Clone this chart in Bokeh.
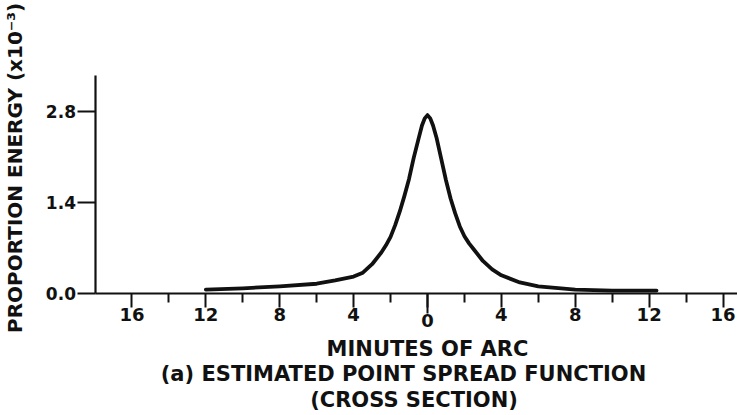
import math
from bokeh.plotting import figure
from bokeh.models import Range1d, FixedTicker, PrintfTickFormatter, Label, LinearAxis
from bokeh.embed import file_html
from bokeh.resources import INLINE

# Data (minutes of arc, proportion energy x1e-3)
minutes = [-12, -10, -8, -6, -5, -4, -3.5, -3, -2.5, -2.25, -2, -1.75, -1.5, -1.25, -1,
           -0.75, -0.5, -0.3, -0.15, 0, 0.15, 0.3, 0.5, 0.75, 1, 1.25, 1.5, 1.75, 2, 2.25,
           2.5, 3, 3.5, 4, 5, 6, 8, 10, 12.4]
energy = [0.06, 0.08, 0.11, 0.15, 0.2, 0.26, 0.32, 0.45, 0.63, 0.74, 0.87, 1.05, 1.26, 1.5, 1.76,
          2.08, 2.36, 2.58, 2.69, 2.74, 2.69, 2.58, 2.38, 2.06, 1.74, 1.46, 1.23, 1.03, 0.88, 0.77,
          0.68, 0.50, 0.37, 0.28, 0.17, 0.11, 0.06, 0.045, 0.045]

x_major = [-16, -12, -8, -4, 0, 4, 8, 12, 16]
x_major_labels = ["16", "12", "8", "4", "", "4", "8", "12", "16"]
x_center_tick = [0]
x_center_label = ["0"]
x_minor = [-14, -10, -6, -2, 2, 6, 10, 14]
y_major = [0.0, 1.4, 2.8]

x_axis_bounds = (-17.95, 16.8)
y_axis_bounds = (0.0, 3.35)

x_title = "MINUTES OF ARC"
caption_1 = "(a) ESTIMATED POINT SPREAD FUNCTION"
caption_2 = "(CROSS SECTION)"
y_title = "PROPORTION ENERGY (x10\u207b\u00b3)"

FONT = "DejaVu Sans"
INK = "#111111"

W, H = 737, 415
PX_X, PX_Y = 18.47, 65.1       # pixels per data unit
X0_PX, Y0_PX = 427, 293         # canvas position of the data origin

p = figure(width=W, height=H, output_backend="svg", toolbar_location=None,
           x_range=Range1d(-X0_PX / PX_X, (W - X0_PX) / PX_X),
           y_range=Range1d(-(H - Y0_PX) / PX_Y, Y0_PX / PX_Y),
           min_border=0)
p.xgrid.visible = False
p.ygrid.visible = False
p.outline_line_color = None
p.background_fill_color = "white"
p.border_fill_color = "white"

p.line(minutes, energy, line_width=3.8, line_color=INK, line_join="round", line_cap="round")

def style_axis(ax, size):
    ax.axis_line_width = 2.2
    ax.axis_line_color = INK
    ax.major_tick_line_width = 2
    ax.major_tick_line_color = INK
    ax.major_tick_in = 0
    ax.minor_tick_line_width = 2
    ax.minor_tick_line_color = INK
    ax.minor_tick_in = 0
    ax.major_label_text_font = FONT
    ax.major_label_text_font_style = "bold"
    ax.major_label_text_font_size = size
    ax.major_label_text_color = INK

xa = p.xaxis[0]
style_axis(xa, "18px")
xa.fixed_location = 0
xa.bounds = x_axis_bounds
xa.ticker = FixedTicker(ticks=x_major, minor_ticks=x_minor)
xa.major_label_overrides = {t: l for t, l in zip(x_major, x_major_labels)}
xa.major_tick_out = 14
xa.minor_tick_out = 9
xa.major_label_standoff = 0

# longer centre tick at zero with its label sitting a little lower
xc = LinearAxis(fixed_location=0, bounds=x_axis_bounds,
                ticker=FixedTicker(ticks=x_center_tick, minor_ticks=[]))
style_axis(xc, "18px")
xc.major_label_overrides = {t: l for t, l in zip(x_center_tick, x_center_label)}
xc.axis_line_color = None
xc.major_tick_out = 20
xc.minor_tick_out = 0
xc.major_label_standoff = 0
p.add_layout(xc, "below")

ya = p.yaxis[0]
style_axis(ya, "17px")
ya.fixed_location = x_axis_bounds[0]
ya.bounds = y_axis_bounds
ya.ticker = FixedTicker(ticks=y_major, minor_ticks=[])
ya.formatter = PrintfTickFormatter(format="%.1f")
ya.major_tick_out = 18
ya.minor_tick_out = 0
ya.major_label_standoff = 2

def add_text(txt, x, y, size, angle=0.0):
    p.add_layout(Label(x=x, y=y, text=txt, angle=angle, text_align="center",
                       text_baseline="middle", text_font=FONT, text_font_style="bold",
                       text_font_size=size, text_color=INK))

add_text(x_title, 0.0, -0.853, "21px")
add_text(caption_1, -1.30, -1.229, "21px")
add_text(caption_2, -0.73, -1.636, "21px")
add_text(y_title, -22.33, 1.93, "20px", angle=math.pi / 2)

open("out.html", "w").write(file_html(p, INLINE))
